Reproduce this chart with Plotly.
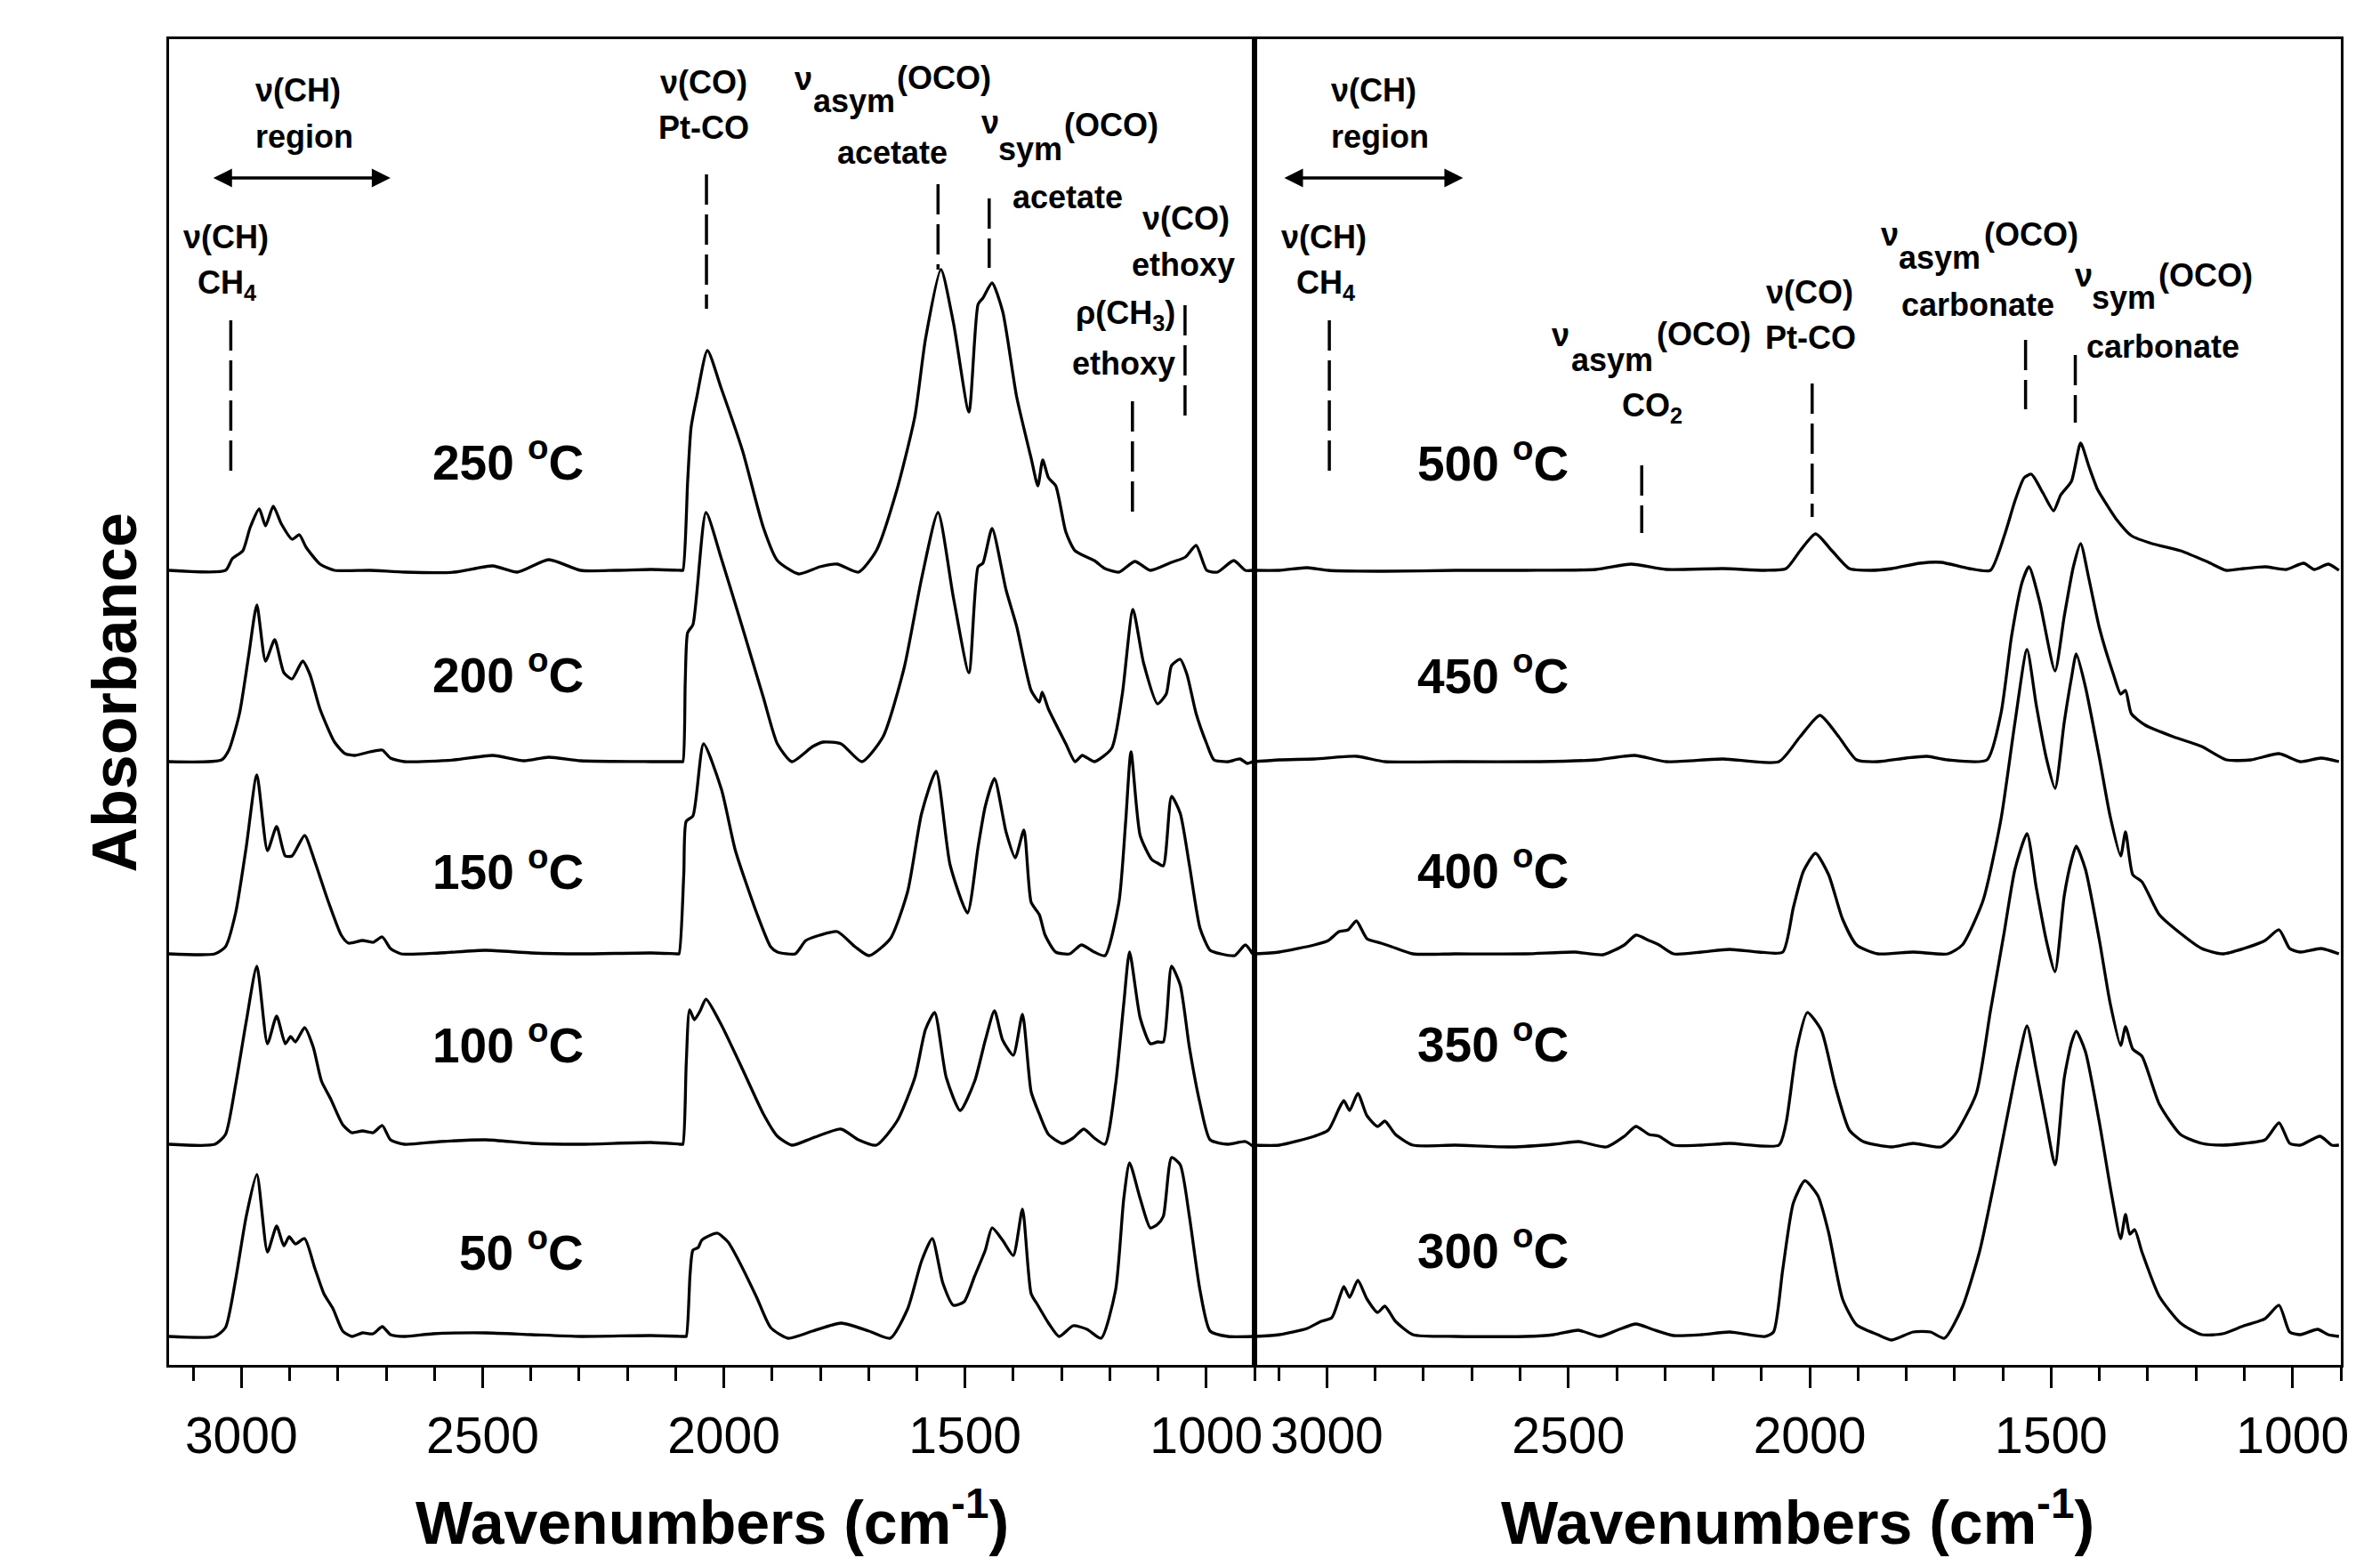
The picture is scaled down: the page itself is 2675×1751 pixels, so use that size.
import plotly.graph_objects as go

# ---------------- data (wavenumber cm^-1, absorbance a.u. above own baseline) ----------------
spec_50 = [(3150,0),(3055,0),(3033,0.10),(3012,0.64),(2990,1.35),(2968,1.82),(2946,0.95),(2927,1.24),(2912,1.02),(2901,1.12),(2888,1.04),(2869,1.10),(2848,0.77),(2829,0.48),(2810,0.31),(2790,0.06),(2771,0),(2749,0.04),(2727,0.03),(2708,0.11),(2691,0.02),(2662,0),(2603,0.03),(2494,0.04),(2399,0.02),(2297,0),(2151,0.01),(2082,0),(2078,0),(2070,0.7),(2064,0.97),(2053,1.00),(2046,1.08),(2027,1.14),(2013,1.16),(1991,1.06),(1969,0.85),(1932,0.44),(1903,0.10),(1867,-0.02),(1816,0.06),(1757,0.15),(1699,0.06),(1655,-0.02),(1619,0.31),(1590,0.85),(1568,1.10),(1546,0.60),(1524,0.35),(1502,0.39),(1480,0.68),(1458,0.97),(1444,1.22),(1422,1.08),(1400,0.91),(1381,1.43),(1363,0.48),(1349,0.35),(1327,0.15),(1305,0),(1276,0.12),(1247,0.08),(1218,-0.02),(1188,0.52),(1171,1.55),(1159,1.95),(1137,1.55),(1116,1.22),(1101,1.26),(1089,1.35),(1072,2.01),(1054,1.93),(1035,1.35),(1013,0.52),(992,0.06),(955,0),(904,0)]
spec_100 = [(3150,0),(3055,0),(3033,0.11),(3012,0.67),(2990,1.38),(2968,2.00),(2946,1.13),(2927,1.44),(2909,1.13),(2898,1.21),(2888,1.15),(2869,1.31),(2851,1.09),(2834,0.71),(2815,0.51),(2790,0.22),(2771,0.13),(2749,0.15),(2727,0.13),(2708,0.21),(2691,0.05),(2662,0),(2589,0.03),(2494,0.05),(2399,0.01),(2297,0),(2151,0.02),(2089,0),(2085,0),(2078,0.9),(2071,1.51),(2061,1.40),(2049,1.50),(2037,1.63),(2005,1.34),(1961,0.84),(1918,0.34),(1889,0.09),(1859,-0.01),(1816,0.07),(1757,0.17),(1721,0.05),(1684,-0.01),(1641,0.26),(1604,0.75),(1582,1.29),(1563,1.48),(1539,0.75),(1510,0.38),(1480,0.71),(1458,1.17),(1439,1.50),(1422,1.17),(1400,1.00),(1381,1.46),(1363,0.59),(1346,0.34),(1327,0.11),(1298,0.01),(1276,0.07),(1254,0.17),(1232,0.07),(1210,0),(1188,0.67),(1171,1.58),(1159,2.16),(1137,1.42),(1116,1.13),(1101,1.15),(1089,1.15),(1072,2.00),(1054,1.79),(1035,1.09),(1013,0.46),(992,0.05),(955,0),(919,0.03),(904,-0.02)]
spec_150 = [(3150,0),(3055,0),(3033,0.08),(3012,0.46),(2990,1.20),(2968,2.01),(2946,1.16),(2927,1.43),(2909,1.10),(2895,1.10),(2869,1.33),(2848,1.04),(2822,0.62),(2793,0.21),(2778,0.12),(2749,0.15),(2727,0.13),(2708,0.19),(2691,0.06),(2669,0),(2589,0.01),(2494,0.04),(2399,0.01),(2297,0),(2151,0.01),(2097,0),(2093,0),(2083,0.9),(2078,1.49),(2064,1.55),(2042,2.36),(2005,1.85),(1976,1.16),(1932,0.46),(1903,0.08),(1889,0.02),(1852,0),(1830,0.15),(1801,0.21),(1765,0.25),(1728,0.08),(1699,-0.02),(1655,0.17),(1619,0.70),(1590,1.58),(1560,2.05),(1531,1.0),(1495,0.46),(1473,1.20),(1458,1.66),(1439,1.97),(1415,1.37),(1396,1.08),(1378,1.39),(1363,0.58),(1346,0.44),(1334,0.21),(1312,0.02),(1283,0),(1259,0.10),(1232,0.02),(1210,-0.02),(1181,0.58),(1167,1.49),(1156,2.27),(1137,1.33),(1113,1.06),(1101,1.02),(1089,0.99),(1072,1.77),(1054,1.58),(1035,1.00),(1013,0.29),(992,0.04),(970,0),(941,-0.02),(919,0.10),(904,0)]
spec_200 = [(3150,0),(3041,0.02),(3026,0.13),(3004,0.54),(2985,1.19),(2968,1.76),(2950,1.13),(2931,1.37),(2912,1.00),(2895,0.93),(2873,1.13),(2858,0.98),(2837,0.59),(2807,0.22),(2785,0.09),(2764,0.07),(2734,0.11),(2708,0.13),(2691,0.04),(2662,0),(2559,0.02),(2479,0.07),(2414,0.01),(2363,0.05),(2297,0.01),(2151,0),(2089,0),(2085,0),(2080,0.9),(2075,1.45),(2064,1.54),(2037,2.80),(2005,2.28),(1961,1.50),(1918,0.72),(1889,0.20),(1859,0),(1816,0.17),(1794,0.22),(1757,0.20),(1714,0),(1670,0.28),(1626,1.06),(1590,2.06),(1556,2.80),(1524,1.84),(1492,1.00),(1473,2.19),(1463,2.23),(1444,2.62),(1415,1.93),(1393,1.52),(1363,0.80),(1346,0.67),(1340,0.78),(1327,0.59),(1291,0.20),(1272,0),(1257,0.07),(1232,0),(1196,0.15),(1174,0.76),(1152,1.71),(1130,1.11),(1101,0.65),(1083,0.76),(1072,1.08),(1054,1.15),(1040,0.98),(1021,0.54),(999,0.20),(984,0.02),(955,0),(930,0.03),(915,-0.02),(904,0)]
spec_250 = [(3150,0),(3033,0),(3019,0.13),(2997,0.22),(2982,0.48),(2963,0.69),(2950,0.50),(2934,0.72),(2917,0.52),(2895,0.35),(2880,0.40),(2866,0.26),(2837,0.07),(2807,0),(2734,0),(2662,-0.02),(2559,-0.02),(2479,0.05),(2428,-0.02),(2363,0.12),(2297,0),(2224,0),(2151,0.01),(2089,0),(2085,0),(2075,1.0),(2068,1.60),(2056,1.95),(2034,2.47),(2005,2.04),(1961,1.34),(1918,0.48),(1889,0.11),(1845,-0.04),(1801,0.04),(1765,0.07),(1721,-0.02),(1684,0.22),(1641,0.91),(1604,1.73),(1582,2.60),(1550,3.38),(1524,2.78),(1492,1.78),(1473,2.99),(1463,3.06),(1444,3.23),(1422,2.91),(1393,1.95),(1363,1.26),(1349,0.95),(1339,1.24),(1327,1.04),(1312,0.95),(1291,0.43),(1272,0.22),(1232,0.11),(1210,0.02),(1181,-0.02),(1148,0.10),(1116,0),(1072,0.09),(1043,0.15),(1021,0.28),(999,0),(977,-0.02),(943,0.11),(919,0),(904,0)]

spec_300 = [(3150,0),(3099,0.02),(3041,0.09),(3012,0.17),(2990,0.21),(2975,0.42),(2965,0.56),(2953,0.44),(2936,0.63),(2917,0.42),(2895,0.27),(2880,0.34),(2858,0.17),(2822,0.02),(2734,0),(2589,0),(2530,0.02),(2479,0.07),(2435,0),(2399,0.07),(2360,0.14),(2326,0.08),(2282,0.01),(2224,0.02),(2166,0.05),(2093,0),(2075,0.05),(2056,0.75),(2034,1.50),(2010,1.75),(1983,1.58),(1961,1.17),(1932,0.42),(1903,0.13),(1859,0.02),(1830,-0.04),(1786,0.05),(1750,0.05),(1721,-0.02),(1684,0.33),(1648,0.96),(1619,1.7),(1590,2.5),(1568,3.1),(1550,3.49),(1531,3.0),(1510,2.4),(1492,1.93),(1473,2.9),(1458,3.3),(1448,3.43),(1429,3.2),(1400,2.4),(1375,1.6),(1356,1.1),(1346,1.37),(1337,1.15),(1327,1.2),(1312,0.95),(1276,0.45),(1232,0.15),(1188,0.02),(1145,0.03),(1101,0.12),(1057,0.2),(1028,0.35),(1006,0.05),(984,0.02),(948,0.08),(926,0.02),(904,0)]
spec_350 = [(3150,0),(3099,0),(3026,0.10),(2997,0.17),(2975,0.41),(2965,0.50),(2953,0.39),(2936,0.58),(2917,0.33),(2895,0.21),(2880,0.27),(2858,0.12),(2822,0),(2734,0),(2618,-0.02),(2530,0.01),(2479,0.04),(2421,-0.02),(2384,0.10),(2360,0.21),(2333,0.12),(2312,0.10),(2282,0),(2224,0),(2166,0.02),(2064,0),(2049,0.25),(2027,1.08),(2005,1.49),(1976,1.29),(1947,0.66),(1918,0.17),(1889,0.04),(1830,-0.02),(1786,0.02),(1728,-0.02),(1699,0.12),(1655,0.58),(1626,1.5),(1597,2.4),(1575,3.1),(1550,3.50),(1531,2.9),(1510,2.3),(1492,1.95),(1473,2.8),(1458,3.2),(1448,3.36),(1429,3.1),(1400,2.3),(1378,1.6),(1356,1.12),(1346,1.33),(1331,1.08),(1312,1.00),(1276,0.46),(1232,0.12),(1188,0.02),(1145,0),(1101,0.02),(1057,0.06),(1028,0.25),(1006,0.02),(984,0),(943,0.10),(919,0),(904,0)]
spec_400 = [(3150,0),(3099,0.02),(3026,0.10),(2997,0.15),(2975,0.25),(2956,0.27),(2939,0.37),(2917,0.17),(2888,0.12),(2866,0.08),(2822,0),(2734,0),(2589,0),(2487,0.02),(2428,-0.01),(2384,0.10),(2360,0.21),(2333,0.15),(2312,0.10),(2282,0),(2224,0.02),(2166,0.05),(2106,0.02),(2056,0.02),(2034,0.52),(2013,0.93),(1988,1.13),(1961,0.89),(1932,0.39),(1903,0.10),(1859,0),(1786,0.02),(1714,0),(1684,0.10),(1641,0.60),(1604,1.51),(1575,2.6),(1550,3.42),(1531,2.8),(1510,2.2),(1492,1.86),(1473,2.6),(1458,3.1),(1448,3.37),(1429,3.0),(1400,2.2),(1378,1.55),(1356,1.10),(1346,1.37),(1331,0.89),(1312,0.81),(1276,0.44),(1232,0.23),(1188,0.06),(1145,0),(1101,0.06),(1057,0.15),(1028,0.27),(1006,0.06),(984,0.02),(941,0.06),(904,0)]
spec_450 = [(3150,0),(3099,0.02),(3026,0.03),(2939,0.06),(2880,0),(2734,0),(2559,0),(2443,0.02),(2363,0.07),(2297,0),(2180,0.03),(2064,0),(2020,0.28),(1979,0.52),(1940,0.28),(1903,0.02),(1859,0),(1801,0.04),(1757,0.06),(1714,0.02),(1633,0.02),(1604,0.54),(1582,1.41),(1560,2.02),(1546,2.19),(1524,1.80),(1492,1.02),(1473,1.63),(1454,2.19),(1439,2.45),(1422,2.06),(1400,1.50),(1371,0.98),(1356,0.76),(1346,0.80),(1334,0.54),(1305,0.41),(1247,0.28),(1188,0.17),(1137,0.02),(1086,0.02),(1028,0.09),(984,0),(941,0.04),(904,0)]
spec_500 = [(3150,0),(3099,0),(3041,0.03),(2997,0),(2880,-0.01),(2734,0),(2589,0),(2443,0.01),(2370,0.07),(2297,0.01),(2180,0.02),(2093,0),(2049,0.02),(2020,0.22),(1988,0.41),(1954,0.22),(1918,0.02),(1874,0),(1830,0.02),(1772,0.08),(1728,0.09),(1670,0.02),(1626,0),(1597,0.39),(1575,0.78),(1556,1.04),(1541,1.08),(1517,0.87),(1495,0.67),(1480,0.85),(1458,1.00),(1439,1.43),(1422,1.17),(1404,0.91),(1385,0.74),(1363,0.56),(1334,0.39),(1291,0.30),(1232,0.22),(1174,0.09),(1137,0),(1101,0.02),(1057,0.04),(1013,0.01),(977,0.08),(955,0.01),(926,0.07),(904,0)]

temps_left = ["50", "100", "150", "200", "250"]
temps_right = ["300", "350", "400", "450", "500"]
offsets_left = [0.32, 2.48, 4.62, 6.78, 8.93]     # vertical stacking offsets
offsets_right = [0.32, 2.47, 4.62, 6.78, 8.93]

tick_vals = [3000, 2500, 2000, 1500, 1000]
minor_vals = list(range(3100, 899, -100))

# band assignment positions (cm^-1)
bands_left = [3022, 2036, 1556, 1450, 1044, 1153]
bands_right = [2995, 2348, 1995, 1553, 1450]

# ---------------- layout helpers (positions / styles) ----------------
FONT = "Liberation Sans, Arial, Helvetica, sans-serif"
W, H = 2675, 1751
ML, MR, MT, MB = 182, 52, 36, 225
SPLIT = (1402 - ML) / (W - ML - MR)
YMAX = 14.9
DY_LAB = 0.04     # small nudge for band labels
DY_TEMP = 0.12    # nudge for temperature labels

fig = go.Figure()

def add_spec(spec, off, xa, ya):
    fig.add_trace(go.Scatter(
        x=[p[0] for p in spec], y=[p[1] + off for p in spec],
        mode="lines", line=dict(color="black", width=3.3, shape="spline", smoothing=0.6),
        xaxis=xa, yaxis=ya, showlegend=False, hoverinfo="skip"))

for s, o in zip([spec_50, spec_100, spec_150, spec_200, spec_250], offsets_left):
    add_spec(s, o, "x", "y")
for s, o in zip([spec_300, spec_350, spec_400, spec_450, spec_500], offsets_right):
    add_spec(s, o, "x2", "y2")

# dashed band markers: (y_top, y_bottom) extents
extent_left = [(11.74, 10.03), (13.38, 11.87), (13.27, 12.31), (13.11, 12.33), (11.91, 10.66), (10.83, 9.57)]
extent_right = [(11.74, 10.03), (10.11, 9.35), (11.03, 9.53), (11.52, 10.74), (11.35, 10.59)]
for wn, (y1, y2) in zip(bands_left, extent_left):
    fig.add_trace(go.Scatter(x=[wn, wn], y=[y1, y2], mode="lines",
                             line=dict(color="black", width=3.5, dash="34px,11px"),
                             xaxis="x", yaxis="y", showlegend=False, hoverinfo="skip"))
for wn, (y1, y2) in zip(bands_right, extent_right):
    fig.add_trace(go.Scatter(x=[wn, wn], y=[y1, y2], mode="lines",
                             line=dict(color="black", width=3.5, dash="34px,11px"),
                             xaxis="x2", yaxis="y2", showlegend=False, hoverinfo="skip"))

def xax(domain, anchor):
    return dict(domain=domain, anchor=anchor, range=[3150, 900], showline=True,
                linecolor="black", linewidth=3, mirror=True, ticks="outside",
                ticklen=23, tickwidth=3, tickcolor="black", tickmode="array",
                tickvals=tick_vals, tickangle=0,
                tickfont=dict(family=FONT, size=57, color="black"),
                ticklabelstandoff=5,
                minor=dict(tickmode="array", tickvals=minor_vals, ticks="outside",
                           ticklen=15, tickwidth=3, tickcolor="black"),
                showgrid=False, zeroline=False)

def yax(anchor):
    return dict(domain=[0, 1], anchor=anchor, range=[0, YMAX], showline=True,
                linecolor="black", linewidth=3, mirror=True, ticks="",
                showticklabels=False, showgrid=False, zeroline=False)

annotations = []

def lab(text, x, y, xref, yref, size=36, xanchor="center"):
    annotations.append(dict(text="<b>%s</b>" % text, x=x, y=y, xref=xref, yref=yref,
                            showarrow=False, xanchor=xanchor, yanchor="middle",
                            font=dict(family=FONT, size=size, color="black")))

left_labels = [
    ("ν(CH)", 2883, 14.29), ("region", 2870, 13.77),
    ("ν(CH)", 3032, 12.64), ("CH<sub>4</sub>", 3030, 12.10),
    ("ν(CO)", 2042, 14.38), ("Pt-CO", 2042, 13.87),
    ("ν", 1835, 14.42), ("asym", 1730, 14.17), ("(OCO)", 1544, 14.43), ("acetate", 1651, 13.59),
    ("ν", 1448, 13.93), ("sym", 1365, 13.63), ("(OCO)", 1197, 13.90), ("acetate", 1287, 13.09),
    ("ν(CO)", 1042, 12.85), ("ethoxy", 1047, 12.33),
    ("ρ(CH<sub>3</sub>)", 1167, 11.76), ("ethoxy", 1171, 11.22),
]
right_labels = [
    ("ν(CH)", 2903, 14.29), ("region", 2890, 13.77),
    ("ν(CH)", 3006, 12.64), ("CH<sub>4</sub>", 3002, 12.10),
    ("ν", 2516, 11.54), ("asym", 2410, 11.26), ("(OCO)", 2220, 11.55), ("CO<sub>2</sub>", 2327, 10.72),
    ("ν(CO)", 2001, 12.02), ("Pt-CO", 1999, 11.51),
    ("ν", 1835, 12.67), ("asym", 1732, 12.41), ("(OCO)", 1542, 12.67), ("carbonate", 1651, 11.88),
    ("ν", 1433, 12.21), ("sym", 1350, 11.96), ("(OCO)", 1180, 12.21), ("carbonate", 1269, 11.41),
]
for t, x, y in left_labels:
    lab(t, x, y + DY_LAB, "x", "y")
for t, x, y in right_labels:
    lab(t, x, y + DY_LAB, "x2", "y2")

# temperature labels
temp_y_left = [1.18, 3.51, 5.46, 7.67, 10.06]
temp_y_right = [1.20, 3.52, 5.47, 7.66, 10.05]
for t, y in zip(temps_left, temp_y_left):
    lab("%s <sup>o</sup>C" % t, 2287, y + DY_TEMP, "x", "y", size=55, xanchor="right")
for t, y in zip(temps_right, temp_y_right):
    lab("%s <sup>o</sup>C" % t, 2495, y + DY_TEMP, "x2", "y2", size=55, xanchor="right")

# double-headed arrows for the nu(CH) region
for (xs, xe, y, xr, yr) in [(3061, 2691, 13.34, "x", "y"), (3091, 2718, 13.34, "x2", "y2")]:
    annotations.append(dict(text="", x=xe, y=y, ax=xs, ay=y, xref=xr, yref=yr,
                            axref=xr, ayref=yr, showarrow=True, arrowhead=2,
                            startarrowhead=2, arrowside="end+start", arrowwidth=3.5,
                            arrowsize=1.2, startarrowsize=1.2, arrowcolor="black",
                            standoff=0, startstandoff=0))

# axis titles
for cx in [SPLIT / 2, (1 + SPLIT) / 2]:
    annotations.append(dict(text="<b>Wavenumbers (cm<sup>-1</sup>)</b>", x=cx, y=-0.1155,
                            xref="paper", yref="paper", showarrow=False,
                            xanchor="center", yanchor="middle",
                            font=dict(family=FONT, size=68, color="black")))
annotations.append(dict(text="<b>Absorbance</b>", x=(121 - ML) / (W - ML - MR), y=0.507,
                        xref="paper", yref="paper", showarrow=False, textangle=-90,
                        xanchor="center", yanchor="middle",
                        font=dict(family=FONT, size=70, color="black")))

fig.update_layout(
    width=W, height=H, margin=dict(l=ML, r=MR, t=MT, b=MB),
    paper_bgcolor="white", plot_bgcolor="white", showlegend=False,
    xaxis=xax([0, SPLIT], "y"), yaxis=yax("x"),
    xaxis2=xax([SPLIT, 1], "y2"), yaxis2=yax("x2"),
    annotations=annotations,
)

fig.write_html("out.html")
